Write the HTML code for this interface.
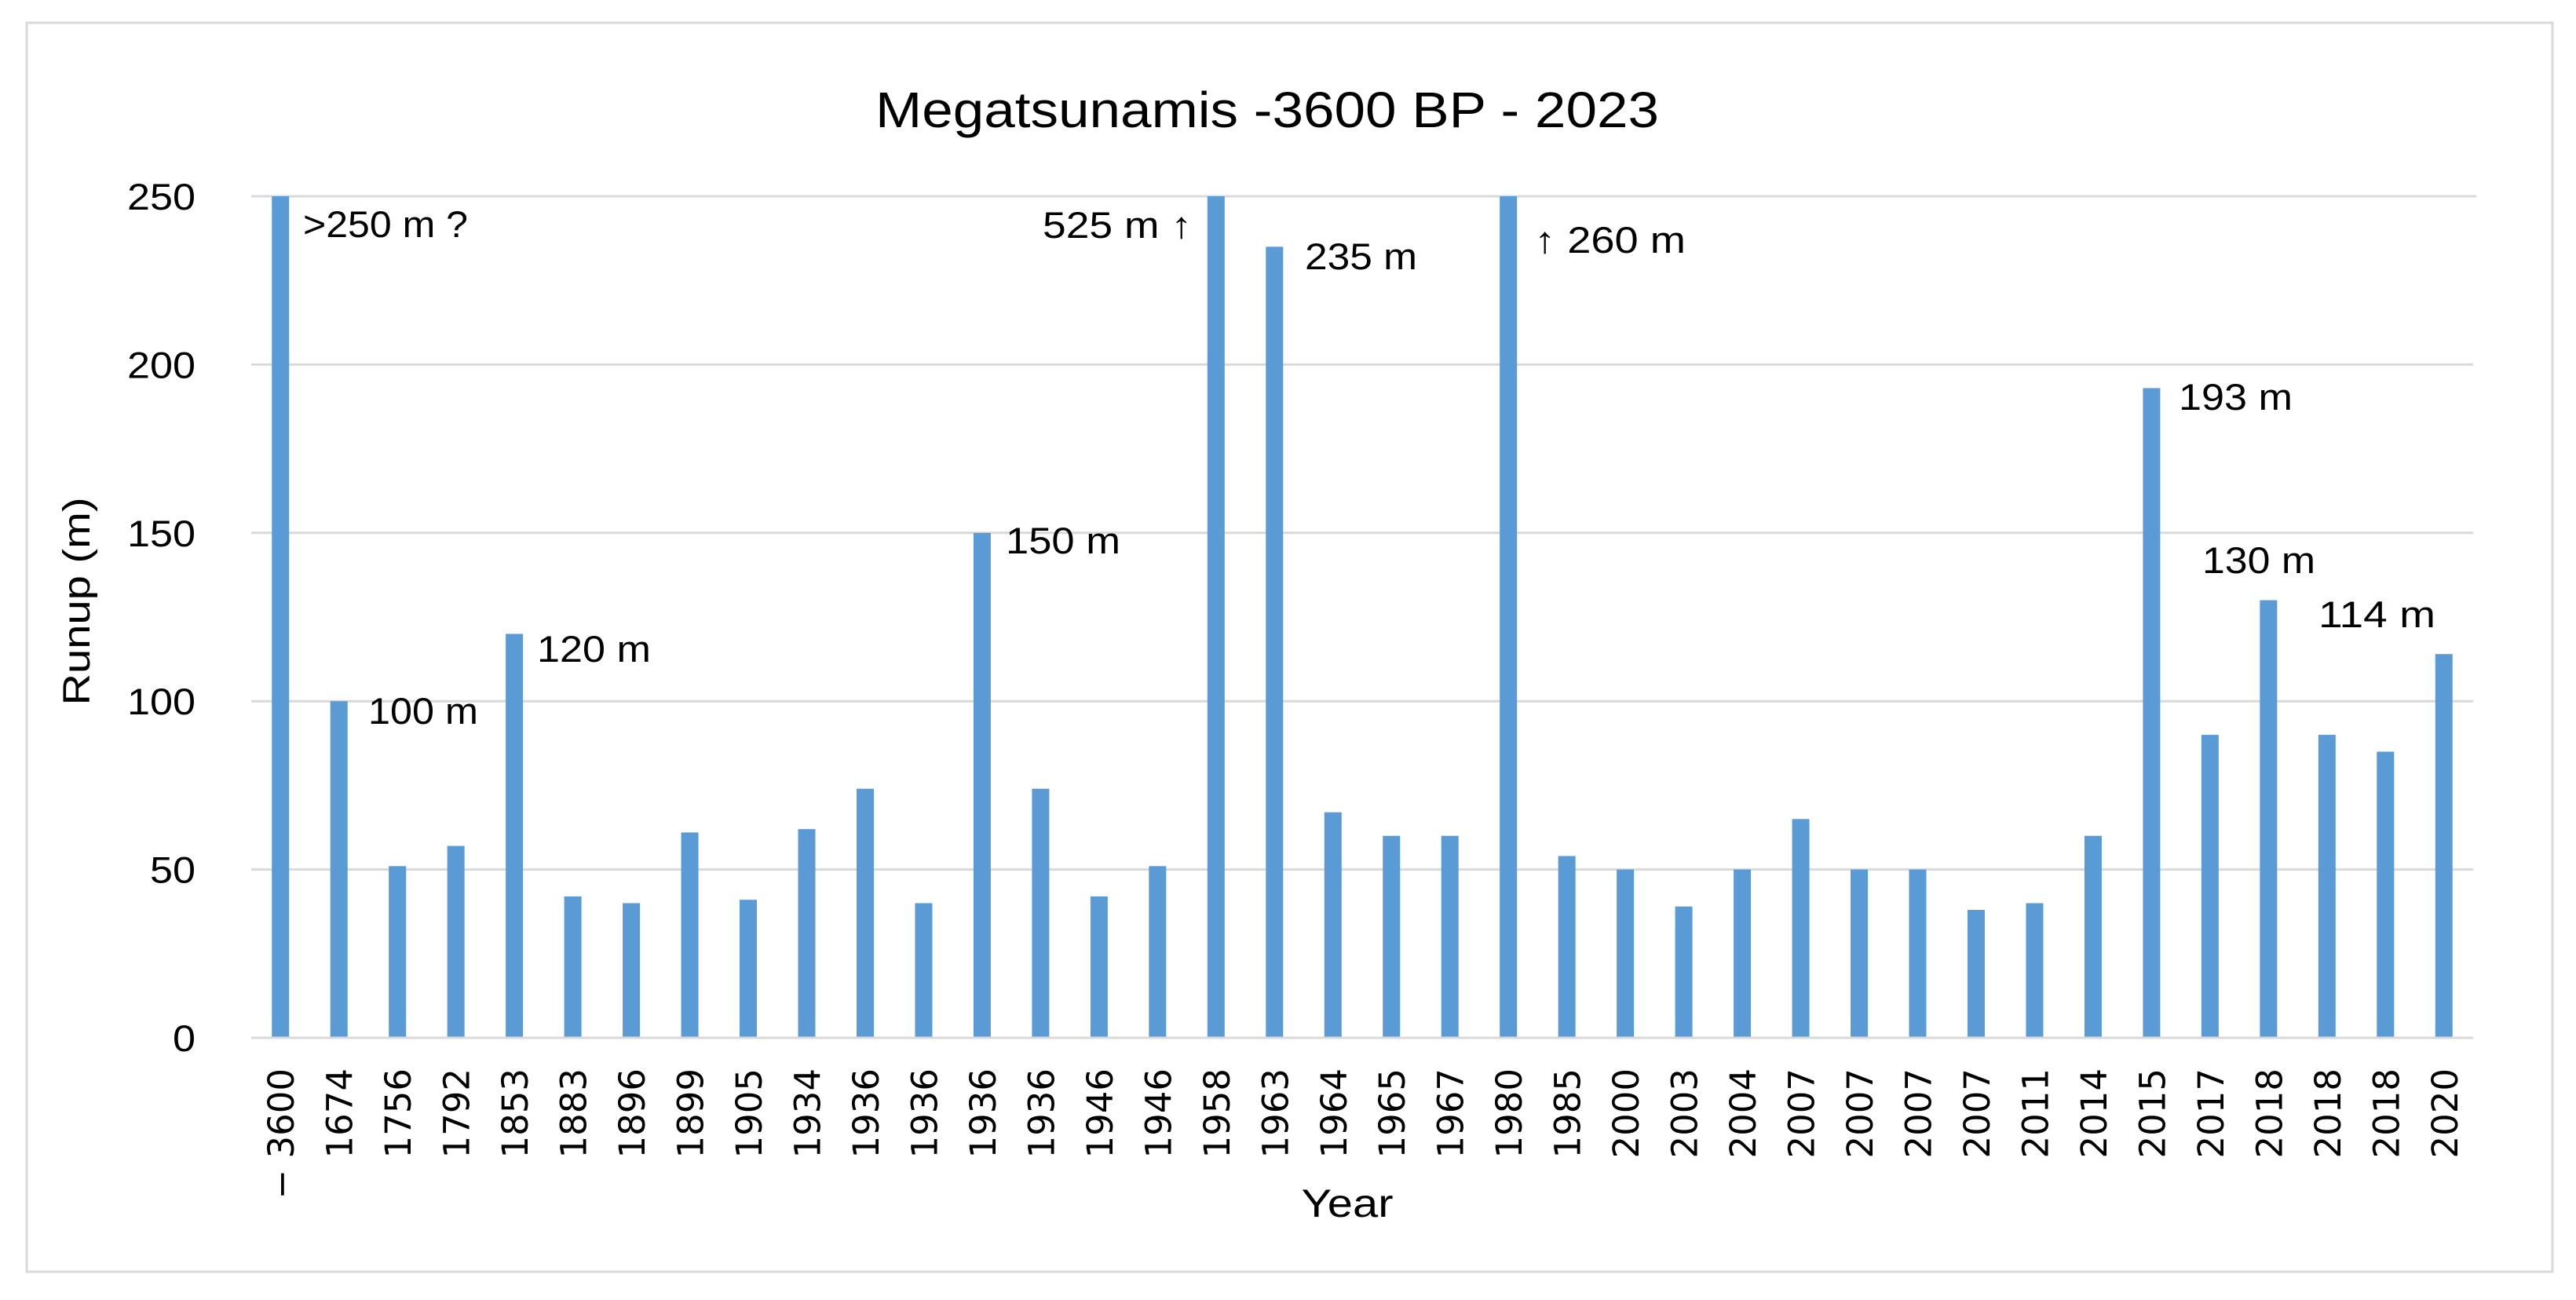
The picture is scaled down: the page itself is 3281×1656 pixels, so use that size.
<!DOCTYPE html>
<html><head><meta charset="utf-8"><style>
html,body{margin:0;padding:0;background:#fff;}
svg{display:block;}
text{fill:#000;}
</style></head><body>
<svg id="chart" width="3281" height="1656" viewBox="0 0 3281 1656" font-family="Liberation Sans, Arial, sans-serif">
<rect x="0" y="0" width="3281" height="1656" fill="#fff"/>
<rect x="34" y="29" width="3217" height="1591" fill="none" stroke="#d9d9d9" stroke-width="3"/>
<text x="1614" y="162" font-size="64" text-anchor="middle" textLength="998" lengthAdjust="spacingAndGlyphs">Megatsunamis -3600 BP - 2023</text>
<g id="grid"></g>
<g id="bars"></g>
<g id="yticks"></g>
<g id="xticks"></g>
<text x="0" y="0" font-size="48" text-anchor="middle" transform="translate(114,766) rotate(-90)" textLength="265" lengthAdjust="spacingAndGlyphs">Runup (m)</text>
<text x="1716" y="1550" font-size="50" text-anchor="middle" textLength="117" lengthAdjust="spacingAndGlyphs">Year</text>
<g font-size="47">
<text x="386" y="302" textLength="210" lengthAdjust="spacingAndGlyphs">&gt;250 m ?</text>
<text x="469" y="922" textLength="140" lengthAdjust="spacingAndGlyphs">100 m</text>
<text x="684" y="843" textLength="145" lengthAdjust="spacingAndGlyphs">120 m</text>
<text x="1281" y="705" textLength="146" lengthAdjust="spacingAndGlyphs">150 m</text>
<text x="1328" y="303" textLength="190" lengthAdjust="spacingAndGlyphs">525 m ↑</text>
<text x="1662" y="343" textLength="143" lengthAdjust="spacingAndGlyphs">235 m</text>
<text x="1954" y="322" textLength="193" lengthAdjust="spacingAndGlyphs">↑ 260 m</text>
<text x="2775" y="522" textLength="145" lengthAdjust="spacingAndGlyphs">193 m</text>
<text x="2805" y="730" textLength="144" lengthAdjust="spacingAndGlyphs">130 m</text>
<text x="2953" y="799" textLength="149" lengthAdjust="spacingAndGlyphs">114 m</text>
</g>
</svg>
<script>
const categories = ["-3600","1674","1756","1792","1853","1883","1896","1899","1905","1934","1936","1936","1936","1936","1946","1946","1958","1963","1964","1965","1967","1980","1985","2000","2003","2004","2007","2007","2007","2007","2011","2014","2015","2017","2018","2018","2018","2020"];
const runupValues = [250,100,51,57,120,42,40,61,41,62,74,40,150,74,42,51,250,235,67,60,60,250,54,50,39,50,65,50,50,38,40,60,193,90,130,90,85,114];
const yTicks = [0,50,100,150,200,250];

const NS = "http://www.w3.org/2000/svg";
const plotL = 320, plotR = 3150, baseY = 1322, topY = 250, yMax = 250;
const band = (plotR - plotL) / categories.length;
const barW = 22;
function yScale(v){ return baseY - (Math.min(v, yMax) / yMax) * (baseY - topY); }
function xCenter(i){ return plotL + band * (i + 0.5); }
function mk(tag, attrs){ const e = document.createElementNS(NS, tag); for (const k in attrs) e.setAttribute(k, attrs[k]); return e; }

const grid = document.getElementById('grid');
const yt = document.getElementById('yticks');
yTicks.forEach(t => {
  const y = yScale(t);
  const ln = mk('line', {x1: plotL, x2: plotR + (t === yMax ? 4 : 0), y1: y, y2: y, stroke: '#d9d9d9', 'stroke-width': 3});
  
  
  grid.appendChild(ln);
  const s = String(t);
  const tx = mk('text', {x: 249, y: y + 17, 'font-size': 47, 'text-anchor': 'end', textLength: s.length * 29, lengthAdjust: 'spacingAndGlyphs'});
  tx.textContent = s;
  
  
  yt.appendChild(tx);
});

const bars = document.getElementById('bars');
const xt = document.getElementById('xticks');
runupValues.forEach((v, i) => {
  const cx = xCenter(i);
  const y = yScale(v);
  const r = mk('rect', {x: cx - barW / 2, y: y, width: barW, height: baseY - y - 1.5, fill: '#5b9bd5'});
  
  
  bars.appendChild(r);
  const lbl = categories[i].replace('-', '\u2212 ');
  const tx = mk('text', {x: 0, y: 0, 'font-size': 45, 'text-anchor': 'end', style: 'font-family:"DejaVu Sans",sans-serif', transform: 'translate(' + (cx + 17) + ',1361) rotate(-90)'});
  tx.textContent = lbl;
  
  
  xt.appendChild(tx);
});
</script>
</body></html>
